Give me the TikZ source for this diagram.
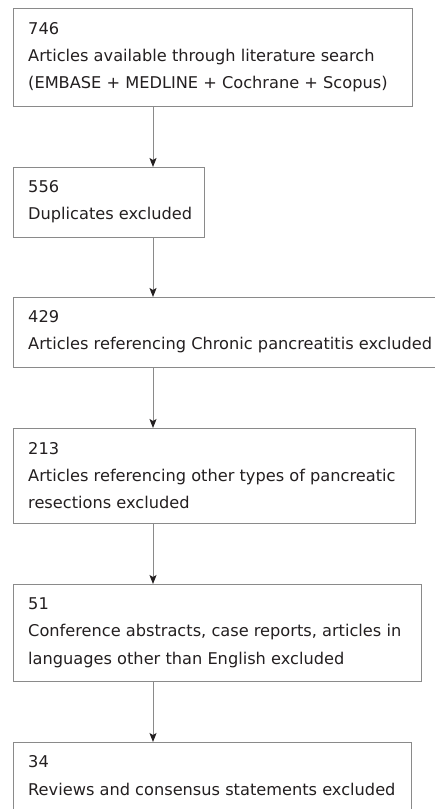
\documentclass[tikz,border=0pt]{standalone}
\usepackage{fontspec}
\setmainfont{DejaVu Sans}
\usetikzlibrary{arrows.meta}
\definecolor{linegray}{HTML}{8A8A8A}
\definecolor{inkdark}{HTML}{231F20}
\tikzset{
  boxnode/.style={draw=linegray, line width=1pt, rectangle, inner sep=0pt, outer sep=0pt, anchor=north west},
  txtnode/.style={anchor=west, inner sep=0pt, align=left, text=inkdark, font=\fontsize{16.2}{27.3}\selectfont, xshift=15pt},
  flowarrow/.style={draw=linegray, line width=1pt, -{Stealth[color=inkdark, length=9pt, width=7pt, inset=2pt]}}
}
\begin{document}
\begin{tikzpicture}[x=1pt, y=-1pt]
\useasboundingbox (0,0) rectangle (435,809);
\fill[white] (0,0) rectangle (435,809);
\coordinate (ax) at (153,0);
\node[boxnode, minimum width=399pt, minimum height=98pt] (b1) at (13,8) {};
\node[boxnode, minimum width=191pt, minimum height=70pt] (b2) at (13,167) {};
\node[boxnode, minimum width=425pt, minimum height=70pt] (b3) at (13,297) {};
\node[boxnode, minimum width=402pt, minimum height=95pt] (b4) at (13,428) {};
\node[boxnode, minimum width=408pt, minimum height=97pt] (b5) at (13,584) {};
\node[boxnode, minimum width=398pt, minimum height=67pt] (b6) at (13,742) {};
\node[txtnode] (t1) at (b1.west) {746\\Articles available through literature search\\(EMBASE + MEDLINE + Cochrane + Scopus)};
\node[txtnode] (t2) at (b2.west) {556\\Duplicates excluded};
\node[txtnode] (t3) at (b3.west) {429\\Articles referencing Chronic pancreatitis excluded};
\node[txtnode] (t4) at (b4.west) {213\\Articles referencing other types of pancreatic\\resections excluded};
\node[txtnode] (t5) at (b5.west) {51\\Conference abstracts, case reports, articles in\\languages other than English excluded};
\node[txtnode] (t6) at (b6.west) {34\\Reviews and consensus statements excluded};
\draw[flowarrow] (b1.south -| ax) -- (b2.north -| ax);
\draw[flowarrow] (b2.south -| ax) -- (b3.north -| ax);
\draw[flowarrow] (b3.south -| ax) -- (b4.north -| ax);
\draw[flowarrow] (b4.south -| ax) -- (b5.north -| ax);
\draw[flowarrow] (b5.south -| ax) -- (b6.north -| ax);
\end{tikzpicture}
\end{document}
